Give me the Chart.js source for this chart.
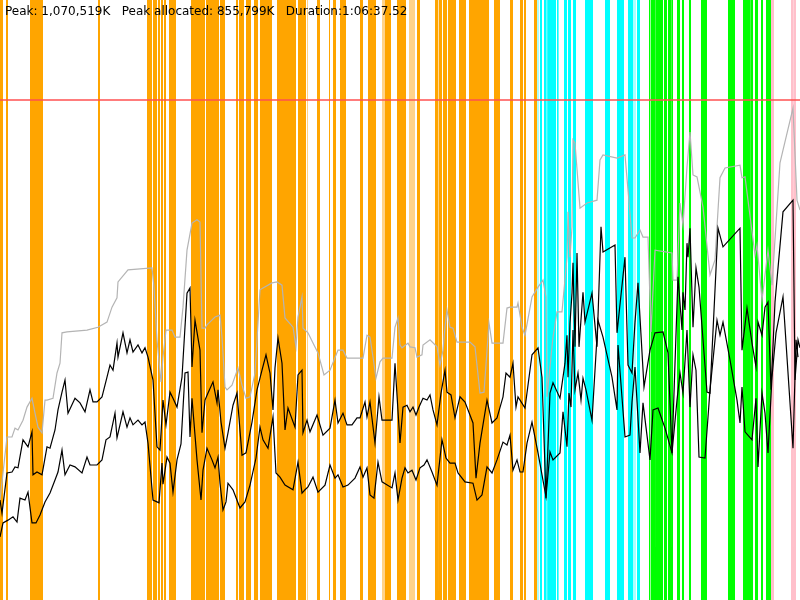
<!DOCTYPE html>
<html>
<head>
<meta charset="utf-8">
<script src="https://cdn.jsdelivr.net/npm/chart.js"></script>
<style>
  body { margin: 0; background: #fff; }
  #wrap { position: relative; width: 800px; height: 600px; }
  #stats {
    position: absolute; left: 5px; top: 4px;
    font: 12px "DejaVu Sans", sans-serif; line-height: 14px;
    color: #000; white-space: pre; z-index: 2;
  }
</style>
</head>
<body>
<div id="wrap">
  <div id="stats">Peak: 1,070,519K   Peak allocated: 855,799K   Duration:1:06:37.52</div>
  <canvas id="chart" width="800" height="600"></canvas>
</div>
<script>
// memory in thousands of K, time in seconds
const PEAK = 1070.519;
const SCALE_TOP = 1284.6;   // top of plot, peak x 1.2
const TIME_END = 4000;

// [time, memory] samples
const greyLine = [
  [0,214],[35,349],[60,349],[75,368],[90,364],[115,385],[135,413],[160,432],[175,400],[190,370],
  [210,358],[225,428],[235,428],[265,432],[285,486],[300,507],[310,572],[335,574],[435,578],[490,584],
  [535,595],[560,627],[585,647],[590,681],[640,707],[760,711],[770,670],[785,557],[805,467],[815,520],
  [830,578],[860,578],[875,563],[900,563],[915,627],[935,749],[960,807],[985,814],[1000,809],[1010,582],
  [1025,582],[1035,589],[1075,606],[1100,610],[1110,563],[1125,456],[1135,450],[1160,460],[1190,497],[1210,460],
  [1230,432],[1250,435],[1275,486],[1300,664],[1315,668],[1360,679],[1385,681],[1410,674],[1425,604],[1465,584],
  [1480,542],[1490,606],[1510,649],[1515,582],[1540,572],[1565,550],[1590,529],[1620,482],[1650,492],[1690,535],
  [1715,535],[1735,518],[1815,518],[1835,567],[1850,563],[1865,520],[1880,475],[1900,510],[1915,518],[1960,518],
  [1975,584],[1990,604],[2000,546],[2010,540],[2040,550],[2050,542],[2075,540],[2085,520],[2110,525],[2115,546],
  [2150,557],[2185,542],[2200,503],[2215,535],[2225,584],[2235,621],[2250,584],[2265,582],[2285,552],[2350,552],
  [2375,542],[2400,443],[2420,445],[2445,593],[2460,550],[2515,550],[2535,625],[2550,627],[2585,627],[2590,636],
  [2610,584],[2625,567],[2660,649],[2690,670],[2715,685],[2730,649],[2735,435],[2765,563],[2785,617],[2810,617],
  [2835,734],[2840,831],[2850,734],[2860,799],[2865,985],[2875,978],[2900,839],[2935,850],[2985,856],[3000,942],
  [3015,953],[3085,946],[3125,953],[3140,878],[3160,775],[3175,775],[3200,792],[3215,777],[3240,777],[3255,574],
  [3275,749],[3360,743],[3365,685],[3385,685],[3400,850],[3415,803],[3435,927],[3450,1002],[3465,910],[3485,906],
  [3515,841],[3550,696],[3575,728],[3600,904],[3625,925],[3700,931],[3710,904],[3725,906],[3775,739],[3785,760],
  [3810,642],[3840,749],[3860,674],[3900,936],[3915,963],[3965,1053],[3985,856],[4000,835]
];

const upperLine = [
  [0,214],[10,186],[35,272],[60,274],[75,285],[90,283],[115,343],[140,328],[160,360],[165,268],
  [185,274],[210,268],[235,328],[250,325],[275,364],[290,407],[310,445],[325,471],[340,400],[375,432],
  [400,422],[425,403],[450,450],[465,424],[485,424],[510,435],[535,477],[550,503],[565,492],[585,550],
  [590,520],[615,572],[635,529],[650,557],[665,531],[690,546],[710,529],[725,540],[740,520],[765,471],
  [785,328],[800,321],[815,428],[830,375],[850,445],[865,432],[885,413],[910,477],[935,657],[950,668],
  [960,499],[975,599],[1000,535],[1010,358],[1025,428],[1040,443],[1065,467],[1085,422],[1090,450],[1105,381],
  [1125,325],[1140,358],[1165,417],[1185,443],[1210,310],[1230,315],[1260,381],[1285,450],[1310,492],[1330,525],
  [1350,486],[1365,407],[1375,497],[1390,561],[1410,507],[1425,364],[1440,411],[1475,370],[1490,482],[1510,492],
  [1515,358],[1535,385],[1550,360],[1585,396],[1615,353],[1650,368],[1675,428],[1690,379],[1715,400],[1735,375],
  [1760,375],[1785,390],[1800,390],[1825,424],[1835,392],[1850,424],[1875,336],[1895,435],[1910,385],[1960,385],
  [1975,507],[2000,336],[2015,413],[2035,417],[2050,403],[2065,413],[2080,396],[2095,413],[2115,432],[2135,428],
  [2150,439],[2165,407],[2185,375],[2205,443],[2225,492],[2235,445],[2255,439],[2275,390],[2300,435],[2325,424],
  [2365,379],[2380,261],[2400,336],[2435,428],[2460,379],[2485,390],[2515,435],[2530,486],[2550,477],[2565,507],
  [2580,413],[2590,435],[2625,411],[2660,525],[2690,540],[2710,477],[2730,218],[2750,443],[2765,465],[2800,432],
  [2825,507],[2835,567],[2840,477],[2850,593],[2860,657],[2865,722],[2875,542],[2885,743],[2895,542],[2915,659],
  [2925,595],[2960,657],[2985,542],[3005,799],[3015,745],[3075,760],[3085,572],[3125,734],[3140,503],[3160,486],
  [3175,595],[3190,679],[3220,456],[3250,535],[3275,572],[3315,574],[3340,529],[3360,315],[3375,507],[3390,692],
  [3410,578],[3415,659],[3425,621],[3435,764],[3440,734],[3450,796],[3465,584],[3480,711],[3495,670],[3535,445],
  [3550,443],[3590,796],[3615,756],[3700,796],[3710,535],[3735,625],[3760,550],[3780,499],[3790,595],[3810,567],
  [3825,627],[3840,638],[3855,450],[3875,638],[3915,831],[3965,856],[3975,471],[3990,557],[4000,540]
];

const lowerLine = [
  [0,135],[15,165],[40,171],[65,178],[85,167],[100,218],[125,214],[140,231],[160,165],[180,165],
  [200,182],[225,210],[250,229],[275,257],[290,274],[310,321],[325,268],[350,289],[375,285],[410,272],
  [435,306],[450,289],[485,289],[510,300],[530,343],[550,349],[575,400],[585,347],[615,403],[635,370],
  [650,390],[665,375],[690,385],[710,375],[725,381],[740,336],[765,214],[785,210],[795,208],[810,293],
  [815,248],[835,306],[850,293],[865,231],[885,300],[905,334],[925,486],[940,488],[950,349],[960,432],
  [985,300],[1005,214],[1015,278],[1035,325],[1060,300],[1075,283],[1090,306],[1100,250],[1115,193],[1130,210],
  [1140,250],[1165,236],[1200,197],[1225,210],[1250,246],[1280,304],[1300,370],[1315,343],[1340,325],[1365,392],
  [1380,272],[1400,263],[1425,246],[1465,236],[1490,295],[1510,229],[1525,236],[1540,242],[1565,263],[1590,231],
  [1625,246],[1650,289],[1675,261],[1690,268],[1715,242],[1740,246],[1775,261],[1800,285],[1815,263],[1835,283],
  [1850,225],[1870,218],[1890,295],[1910,253],[1960,240],[1975,272],[1990,214],[2010,261],[2025,283],[2040,272],
  [2060,278],[2080,257],[2100,283],[2120,289],[2135,300],[2160,274],[2185,246],[2210,343],[2230,304],[2250,293],
  [2275,293],[2290,272],[2325,253],[2365,250],[2385,214],[2410,225],[2435,285],[2460,272],[2485,300],[2515,338],
  [2535,332],[2550,353],[2565,278],[2585,300],[2600,274],[2615,274],[2635,336],[2660,381],[2690,315],[2730,221],
  [2750,317],[2765,300],[2800,315],[2815,403],[2835,328],[2845,443],[2855,413],[2865,578],[2875,450],[2890,486],
  [2905,428],[2915,475],[2930,450],[2960,385],[2990,599],[3015,563],[3060,477],[3085,407],[3090,546],[3125,349],
  [3150,353],[3160,424],[3175,499],[3200,315],[3215,422],[3250,300],[3265,407],[3290,411],[3325,368],[3360,315],
  [3385,428],[3400,486],[3415,443],[3435,578],[3450,413],[3465,525],[3480,492],[3495,306],[3525,304],[3550,450],
  [3585,599],[3600,567],[3615,595],[3650,514],[3685,428],[3700,379],[3710,456],[3725,360],[3760,343],[3780,432],
  [3790,285],[3810,443],[3825,400],[3840,315],[3860,477],[3880,572],[3915,649],[3965,325],[3980,557],[3990,520]
];

// event spans [start, end] in seconds
const orangeSpans = [
  [0,15],[30,40],[150,215],[490,500],[735,760],[765,785],[790,800],[805,815],[820,830],[845,880],
  [955,1025],[1030,1095],[1100,1125],[1180,1190],[1195,1220],[1230,1255],[1270,1290],[1300,1360],
  [1385,1480],[1490,1530],[1585,1600],[1645,1650],[1665,1680],[1700,1730],[1800,1815],[1840,1880],
  [1925,1955],[1985,2030],[2085,2100],[2150,2155],[2175,2190],[2195,2210],[2215,2235],[2240,2280],
  [2295,2330],[2345,2445],[2470,2500],[2550,2565],[2600,2615],[2620,2630],[2670,2685]
];
const paleOrangeSpans = [[1535,1540],[1910,1925],[2045,2075]];
const cyanSpans = [
  [2700,2710],[2720,2733],[2736,2780],[2785,2793],[2820,2835],[2840,2855],[2865,2880],[2925,2965],
  [3025,3050],[3085,3120],[3140,3165],[3185,3200]
];
const paleCyanSpans = [[2680,2695],[3165,3180]];
const greenSpans = [
  [3245,3252],[3255,3275],[3277,3315],[3320,3335],[3340,3355],[3357,3365],[3385,3400],[3410,3420],
  [3445,3455],[3505,3535],[3640,3675],[3715,3750],[3752,3765],[3775,3790],[3805,3815],[3830,3855]
];
const pinkSpans = [[3855,3870],[3955,3965],[3967,3980]];

function toPoints(pairs) {
  return pairs.map(p => ({ x: p[0], y: p[1] }));
}

// each span becomes a box from the floor to the top of the plot
function spanPoints(spans) {
  const pts = [];
  spans.forEach(s => {
    pts.push({ x: s[0], y: 0 }, { x: s[0], y: SCALE_TOP }, { x: s[1], y: SCALE_TOP }, { x: s[1], y: 0 });
  });
  return pts;
}

function lineSet(data, color, width, order) {
  return { data: data, borderColor: color, borderWidth: width, pointRadius: 0, fill: false, tension: 0, order: order };
}

function bandSet(spans, color) {
  return {
    data: spanPoints(spans), borderColor: 'rgba(0,0,0,0)', borderWidth: 0,
    backgroundColor: color, fill: 'origin', pointRadius: 0, tension: 0, order: 3
  };
}

new Chart(document.getElementById('chart'), {
  type: 'line',
  data: {
    datasets: [
      lineSet(toPoints(upperLine), '#000000', 1.2, 0),
      lineSet(toPoints(lowerLine), '#000000', 1.2, 0),
      lineSet(toPoints(greyLine), '#b4b4b4', 1.2, 1),
      lineSet([{ x: 0, y: PEAK }, { x: TIME_END, y: PEAK }], '#ff5050', 1.3, 2),
      bandSet(orangeSpans, '#ffa500'),
      bandSet(paleOrangeSpans, '#ffd38a'),
      bandSet(cyanSpans, '#00ffff'),
      bandSet(paleCyanSpans, '#a8ffff'),
      bandSet(greenSpans, '#00ff00'),
      bandSet(pinkSpans, '#ffc0cb')
    ]
  },
  options: {
    responsive: false,
    animation: false,
    layout: { padding: 0 },
    scales: {
      x: { type: 'linear', min: 0, max: TIME_END, display: false },
      y: { min: 0, max: SCALE_TOP, display: false }
    },
    plugins: {
      legend: { display: false },
      tooltip: { enabled: false }
    }
  }
});
</script>
</body>
</html>
